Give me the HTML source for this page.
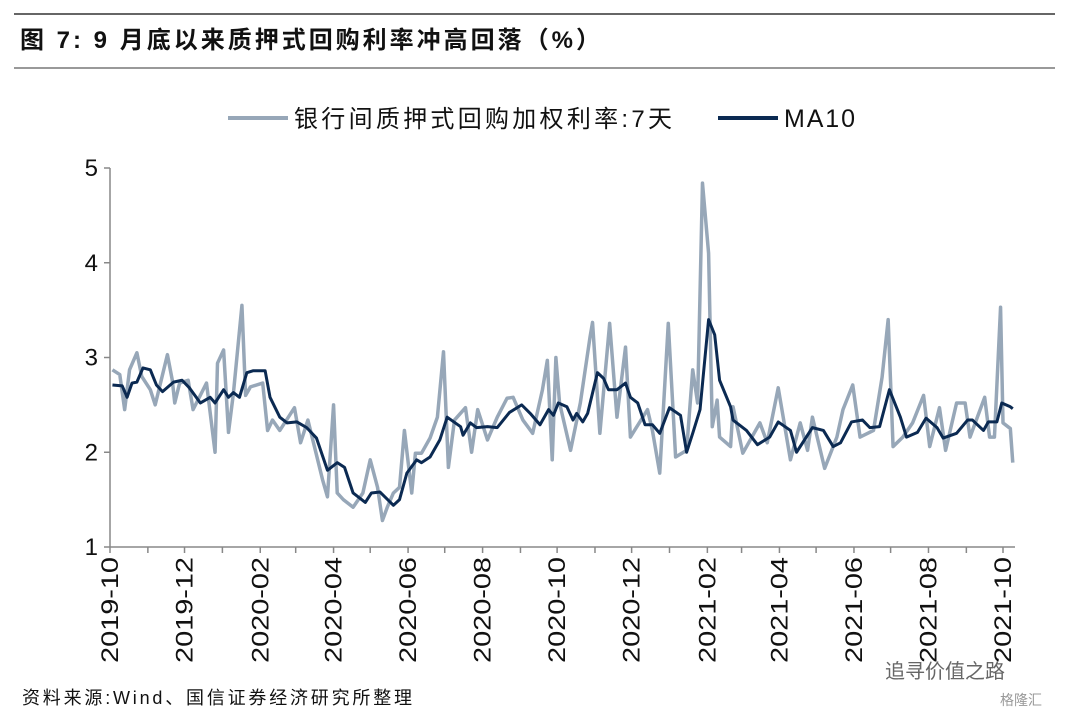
<!DOCTYPE html>
<html><head><meta charset="utf-8"><style>
body{margin:0;background:#fff;width:1075px;height:718px;overflow:hidden;font-family:"Liberation Sans","Noto Sans CJK SC",sans-serif;}
</style></head><body>
<svg width="1075" height="718" xmlns="http://www.w3.org/2000/svg" style="position:absolute;left:0;top:0" font-family="Liberation Sans, Noto Sans CJK SC, sans-serif">
<line x1="14" y1="14" x2="1055" y2="14" stroke="#333" stroke-width="1.5"/>
<text x="20" y="48" font-size="24" font-weight="bold" fill="#111" textLength="580" lengthAdjust="spacing">图 7:  9 月底以来质押式回购利率冲高回落（%）</text>
<line x1="14" y1="68" x2="1055" y2="68" stroke="#333" stroke-width="1"/>
<g>
<line x1="228" y1="118" x2="288" y2="118" stroke="#97a7b8" stroke-width="4"/>
<text x="294" y="127" font-size="24" fill="#111" textLength="378" lengthAdjust="spacing">银行间质押式回购加权利率:7天</text>
<line x1="718" y1="118" x2="778" y2="118" stroke="#0b2a52" stroke-width="4"/>
<text x="784" y="127" font-size="25" fill="#111" textLength="71" lengthAdjust="spacing">MA10</text>
</g>
<g id="chart"></g>
<text x="22" y="704" font-size="18" fill="#111" textLength="390" lengthAdjust="spacing">资料来源:Wind、国信证券经济研究所整理</text>
<text x="885" y="678" font-size="20" fill="#666">追寻价值之路</text>
<text x="1000" y="705" font-size="14" fill="#999">格隆汇</text>
</svg>
<script>
const rawDays=[2,8,12,16,22,26,33,37,47,51,53,57,64,68,79,86,88,93,97,101,108,111,115,125,129,133,139,151,156,162,174,178,183,186,191,199,207,213,219,223,227,232,237,241,247,250,255,262,268,273,277,282,291,296,301,309,317,325,330,338,346,354,358,362,365,368,377,385,393,395,401,409,415,422,426,440,444,450,457,463,472,477,481,485,490,493,497,499,508,510,518,532,538,547,557,565,571,575,585,595,600,608,614,625,632,637,641,649,657,666,671,679,684,693,700,704,716,720,724,729,731,737,739];
const rawVals=[2.87,2.82,2.45,2.87,3.05,2.80,2.66,2.50,3.03,2.76,2.52,2.73,2.76,2.45,2.73,2.00,2.94,3.08,2.21,2.62,3.55,2.60,2.69,2.73,2.23,2.34,2.23,2.47,2.10,2.34,1.71,1.53,2.50,1.57,1.50,1.42,1.57,1.92,1.63,1.28,1.42,1.57,1.63,2.23,1.57,1.99,1.99,2.15,2.37,3.06,1.84,2.34,2.47,2.00,2.45,2.13,2.37,2.57,2.58,2.34,2.20,2.66,2.97,1.92,3.00,2.52,2.02,2.52,3.22,3.37,2.20,3.36,2.37,3.11,2.16,2.45,2.23,1.78,3.36,1.95,2.02,2.87,2.52,4.84,4.10,2.27,2.55,2.16,2.06,2.48,1.99,2.31,2.10,2.68,1.92,2.31,2.02,2.37,1.83,2.16,2.45,2.71,2.16,2.23,2.79,3.40,2.06,2.16,2.31,2.60,2.06,2.47,2.02,2.52,2.52,2.16,2.58,2.16,2.16,3.53,2.31,2.25,1.89];
const maDays=[2,10,14,18,22,27,33,38,43,52,59,65,74,82,86,93,97,101,106,112,117,127,131,139,145,153,161,169,178,186,192,199,209,214,221,232,237,243,251,255,262,270,276,287,289,295,300,309,317,327,337,344,352,359,363,367,374,379,382,387,391,399,404,408,415,422,426,432,438,444,450,458,467,472,477,483,490,495,499,508,510,521,530,540,547,557,562,575,584,592,598,607,616,622,630,638,647,652,661,668,677,682,693,702,706,715,719,726,730,737,739];
const maVals=[2.71,2.70,2.58,2.73,2.74,2.89,2.87,2.71,2.64,2.74,2.76,2.68,2.52,2.58,2.52,2.66,2.58,2.63,2.58,2.84,2.86,2.86,2.58,2.37,2.31,2.32,2.26,2.15,1.81,1.89,1.84,1.57,1.47,1.57,1.58,1.44,1.50,1.78,1.92,1.89,1.95,2.13,2.37,2.27,2.18,2.31,2.26,2.27,2.26,2.42,2.50,2.41,2.29,2.45,2.39,2.52,2.48,2.34,2.41,2.32,2.41,2.84,2.78,2.66,2.66,2.73,2.58,2.52,2.29,2.29,2.20,2.47,2.39,2.00,2.20,2.45,3.40,3.24,2.76,2.48,2.34,2.23,2.08,2.16,2.32,2.23,2.00,2.26,2.23,2.06,2.10,2.32,2.34,2.26,2.27,2.66,2.37,2.16,2.21,2.36,2.26,2.15,2.20,2.34,2.34,2.23,2.32,2.32,2.52,2.48,2.46];
const yTicks=[1,2,3,4,5];
const xLabels=["2019-10","2019-12","2020-02","2020-04","2020-06","2020-08","2020-10","2020-12","2021-02","2021-04","2021-06","2021-08","2021-10"];
const NS="http://www.w3.org/2000/svg";
const g=document.getElementById('chart');
const X0=110,PXD=893/731,Y0=547,PXV=94.75;
const sx=d=>X0+d*PXD, sy=v=>Y0-(v-1)*PXV;
function mk(t,a){const e=document.createElementNS(NS,t);for(const k in a)e.setAttribute(k,a[k]);g.appendChild(e);return e;}
const ax=mk('line',{x1:110,y1:168,x2:110,y2:547,stroke:'#888','stroke-width':1.5});


const bx=mk('line',{x1:110,y1:547,x2:1015,y2:547,stroke:'#888','stroke-width':1.5});


yTicks.forEach(v=>{
 const t=mk('line',{x1:104,x2:110,y1:sy(v),y2:sy(v),stroke:'#888','stroke-width':1.5});
 
 
 const l=mk('text',{x:98,y:sy(v)+8,'text-anchor':'end','font-size':24,fill:'#111'});l.textContent=v;
 
 
});
function days(s){const [y,m]=s.split('-').map(Number);return (Date.UTC(y,m-1,1)-Date.UTC(2019,9,1))/864e5;}
for(let i=0;i<=24;i++){
 const y=2019+Math.floor((9+i)/12),m=(9+i)%12+1;
 const x=sx(days(y+'-'+m));
 const t=mk('line',{x1:x,x2:x,y1:547,y2:553,stroke:'#888','stroke-width':1.5});
 
 
}
xLabels.forEach(s=>{
 const x=sx(days(s));
 const l=mk('text',{x:0,y:0,'text-anchor':'end','font-size':24,fill:'#111',textLength:106,lengthAdjust:'spacingAndGlyphs',transform:`translate(${x+8},557) rotate(-90)`});l.textContent=s;
 
 
});
const p1=mk('polyline',{points:rawDays.map((d,i)=>sx(d)+','+sy(rawVals[i])).join(' '),fill:'none',stroke:'#97a7b8','stroke-width':3.5,'stroke-linejoin':'round'});


const p2=mk('polyline',{points:maDays.map((d,i)=>sx(d)+','+sy(maVals[i])).join(' '),fill:'none',stroke:'#0b2a52','stroke-width':3,'stroke-linejoin':'round'});


</script>
</body></html>
